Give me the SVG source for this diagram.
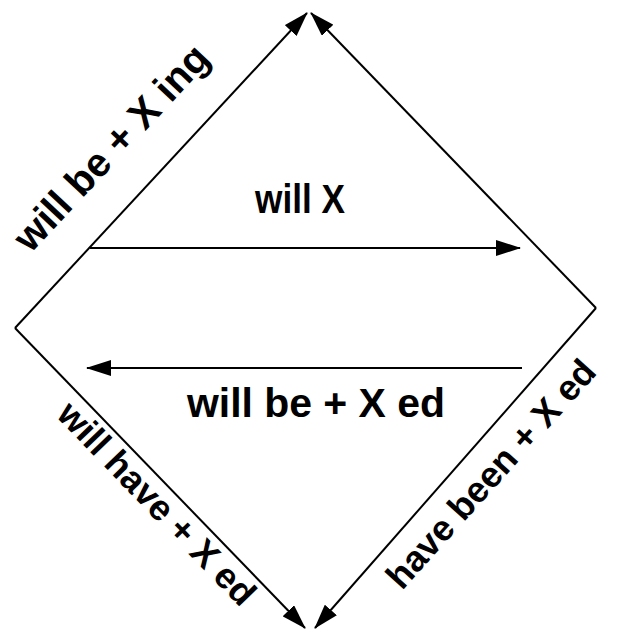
<svg xmlns="http://www.w3.org/2000/svg" width="617" height="630" viewBox="0 0 617 630">
<style>
.edge{stroke:#000;stroke-width:2;fill:none;marker-end:url(#ah)}
.lbl{font-family:"Liberation Sans",Arial,Helvetica,sans-serif;font-weight:bold;fill:#000;text-anchor:middle}
.big{font-size:41px}
.diag{font-size:36px}
</style>
<defs>
<marker id="ah" viewBox="0 0 25 16" refX="24" refY="8" markerWidth="25" markerHeight="16" orient="auto" markerUnits="userSpaceOnUse">
<path d="M0,0 L25,8 L0,16 z" fill="#000"/>
</marker>
</defs>
<rect width="617" height="630" fill="#fff"/>
<g id="connectors">
<line class="edge" x1="15" y1="328" x2="307" y2="13"/>
<line class="edge" x1="596" y1="308" x2="311" y2="13"/>
<line class="edge" x1="15" y1="328" x2="305" y2="628"/>
<line class="edge" x1="596" y1="308" x2="315" y2="628"/>
<line class="edge" x1="90" y1="248" x2="520" y2="248"/>
<line class="edge" x1="522" y1="368" x2="87" y2="368"/>
</g>
<g id="label-will-x"><text class="lbl big" x="300" y="213" textLength="90" lengthAdjust="spacingAndGlyphs">will X</text></g>
<g id="label-will-be-xed"><text class="lbl big" x="316" y="417" textLength="258" lengthAdjust="spacingAndGlyphs">will be + X ed</text></g>
<g id="label-will-be-xing"><text class="lbl diag" style="font-size:40px" transform="translate(121,157) rotate(-47)">will be + X ing</text></g>
<g id="label-will-have-xed"><text class="lbl diag" transform="translate(148,512) rotate(46)">will have + X ed</text></g>
<g id="label-have-been-xed"><text class="lbl diag" transform="translate(500,482) rotate(-48)">have been + X ed</text></g>
</svg>
